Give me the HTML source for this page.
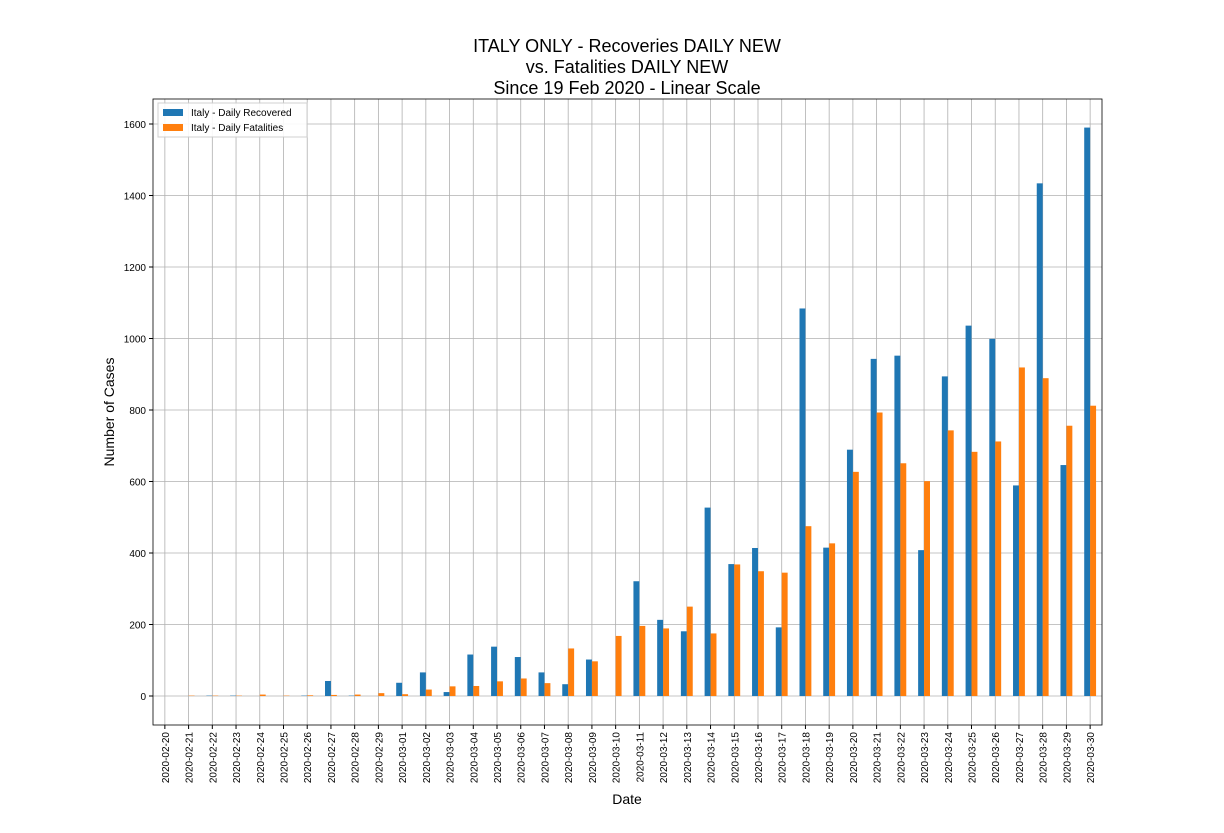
<!DOCTYPE html>
<html><head><meta charset="utf-8"><style>
body{margin:0;background:#fff;font-family:"Liberation Sans","DejaVu Sans",sans-serif;}
svg text{font-family:"Liberation Sans","DejaVu Sans",sans-serif;}
</style></head><body>
<svg id="chart" width="1224" height="828" xmlns="http://www.w3.org/2000/svg">
<g id="grid"></g>
<g id="bars"></g>
<g id="axes"></g>
<text x="627" y="52" text-anchor="middle" font-size="18">ITALY ONLY - Recoveries DAILY NEW</text>
<text x="627" y="73" text-anchor="middle" font-size="18">vs. Fatalities DAILY NEW</text>
<text x="627" y="94" text-anchor="middle" font-size="18">Since 19 Feb 2020 - Linear Scale</text>
<text x="0" y="0" transform="translate(114,412) rotate(-90)" text-anchor="middle" font-size="14">Number of Cases</text>
<text x="627" y="804" text-anchor="middle" font-size="14">Date</text>
<g>
<rect x="158" y="103" width="149" height="34" fill="#fff" stroke="#ccc" opacity="0.9"/>
<rect x="163" y="109" width="20" height="7" fill="#1f77b4"/>
<text x="191" y="116" font-size="10">Italy - Daily Recovered</text>
<rect x="163" y="124" width="20" height="7" fill="#ff7f0e"/>
<text x="191" y="131" font-size="10">Italy - Daily Fatalities</text>
</g>
</svg>
<script>
const categories=["2020-02-20","2020-02-21","2020-02-22","2020-02-23","2020-02-24","2020-02-25","2020-02-26","2020-02-27","2020-02-28","2020-02-29","2020-03-01","2020-03-02","2020-03-03","2020-03-04","2020-03-05","2020-03-06","2020-03-07","2020-03-08","2020-03-09","2020-03-10","2020-03-11","2020-03-12","2020-03-13","2020-03-14","2020-03-15","2020-03-16","2020-03-17","2020-03-18","2020-03-19","2020-03-20","2020-03-21","2020-03-22","2020-03-23","2020-03-24","2020-03-25","2020-03-26","2020-03-27","2020-03-28","2020-03-29","2020-03-30"];
const recovered=[0,0,1,1,0,0,1,42,1,0,37,66,11,116,138,109,66,33,102,0,321,213,181,527,369,414,192,1084,415,689,943,952,408,894,1036,999,589,1434,646,1590];
const fatalities=[0,1,1,1,4,1,2,3,4,8,5,18,27,28,41,49,36,133,97,168,196,189,250,175,368,349,345,475,427,627,793,651,601,743,683,712,919,889,756,812];
const yTicks=[0,200,400,600,800,1000,1200,1400,1600];
</script>
<script>
const NS="http://www.w3.org/2000/svg";
const L=153,R=1102,T=99,B=725,Y0=696,Y1600=124;
const y=v=>Y0-(v/1600)*(Y0-Y1600);
const n=categories.length;
const step=(R-L)/n;
const x=i=>L+step*(i+0.5);
const bw=step*0.25;
function mk(tag,a,parent){const e=document.createElementNS(NS,tag);for(const k in a)e.setAttribute(k,a[k]);parent.appendChild(e);return e;}
const grid=document.getElementById('grid'),bars=document.getElementById('bars'),axes=document.getElementById('axes');
yTicks.forEach(t=>{
 const g=mk('line',{x1:L,x2:R,y1:y(t),y2:y(t),stroke:'#b0b0b0','stroke-width':0.8},grid);
 
 
 mk('line',{x1:L-4,x2:L,y1:y(t),y2:y(t),stroke:'#000'},axes);
 const tx=mk('text',{x:L-7,y:y(t)+4,'text-anchor':'end','font-size':10},axes);
 tx.textContent=t;
 
 
});
categories.forEach((c,i)=>{
 const g=mk('line',{x1:x(i),x2:x(i),y1:T,y2:B,stroke:'#b0b0b0','stroke-width':0.8},grid);
 
 
 mk('line',{x1:x(i),x2:x(i),y1:B,y2:B+4,stroke:'#000'},axes);
 const tx=mk('text',{x:0,y:0,'text-anchor':'end','font-size':10,transform:`translate(${x(i)+4},${B+7}) rotate(-90)`},axes);
 tx.textContent=c;
 
 
 const r=recovered[i],f=fatalities[i];
 const b1=mk('rect',{x:x(i)-bw,y:Math.min(y(r),Y0),width:bw,height:Math.abs(Y0-y(r)),fill:'#1f77b4'},bars);
 
 
 const b2=mk('rect',{x:x(i),y:Math.min(y(f),Y0),width:bw,height:Math.abs(Y0-y(f)),fill:'#ff7f0e'},bars);
 
 
});
const fr=mk('rect',{x:L,y:T,width:R-L,height:B-T,fill:'none',stroke:'#000','stroke-width':0.8},axes);


</script>
</body></html>
